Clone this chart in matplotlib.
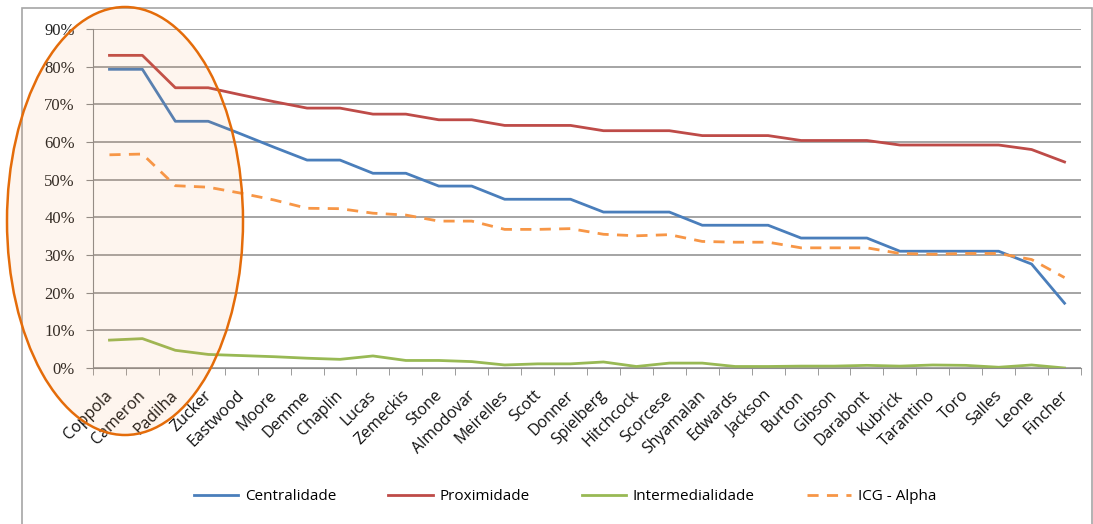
import matplotlib.pyplot as plt
from matplotlib.patches import Ellipse, Rectangle
from matplotlib.ticker import FixedLocator, PercentFormatter

diretores = ['Coppola', 'Cameron', 'Padilha', 'Zucker', 'Eastwood', 'Moore', 'Demme',
             'Chaplin', 'Lucas', 'Zemeckis', 'Stone', 'Almodovar', 'Meirelles', 'Scott',
             'Donner', 'Spielberg', 'Hitchcock', 'Scorcese', 'Shyamalan', 'Edwards',
             'Jackson', 'Burton', 'Gibson', 'Darabont', 'Kubrick', 'Tarantino', 'Toro',
             'Salles', 'Leone', 'Fincher']

centralidade = [79.3, 79.3, 65.5, 65.5, 62.1, 58.6, 55.2, 55.2, 51.7, 51.7, 48.3, 48.3,
                44.8, 44.8, 44.8, 41.4, 41.4, 41.4, 37.9, 37.9, 37.9, 34.5, 34.5, 34.5,
                31.0, 31.0, 31.0, 31.0, 27.6, 17.2]
proximidade = [83.0, 83.0, 74.4, 74.4, 72.5, 70.7, 69.0, 69.0, 67.4, 67.4, 65.9, 65.9,
               64.4, 64.4, 64.4, 63.0, 63.0, 63.0, 61.7, 61.7, 61.7, 60.4, 60.4, 60.4,
               59.2, 59.2, 59.2, 59.2, 58.0, 54.7]
intermedialidade = [7.4, 7.8, 4.7, 3.6, 3.3, 3.0, 2.6, 2.3, 3.2, 2.0, 2.0, 1.7,
                    0.8, 1.1, 1.1, 1.6, 0.4, 1.3, 1.3, 0.4, 0.4, 0.5, 0.5, 0.7,
                    0.5, 0.8, 0.7, 0.2, 0.8, 0.0]
icg_alpha = [56.6, 56.8, 48.4, 48.0, 46.4, 44.6, 42.4, 42.3, 41.1, 40.6, 39.0, 39.0,
             36.8, 36.8, 37.0, 35.5, 35.1, 35.4, 33.6, 33.4, 33.4, 31.9, 31.9, 31.9,
             30.4, 30.2, 30.4, 30.4, 28.8, 24.0]

fig = plt.figure(figsize=(10.93, 5.24), dpi=100)
ax = fig.add_axes([93 / 1093, 1 - 368 / 524, (1081 - 93) / 1093, (368 - 29) / 524])

x = range(len(diretores))
ax.plot(x, centralidade, color='#4A7EBB', lw=2.0, label='Centralidade')
ax.plot(x, proximidade, color='#BE4B48', lw=2.0, label='Proximidade')
ax.plot(x, intermedialidade, color='#98B954', lw=2.0, label='Intermedialidade')
ax.plot(x, icg_alpha, color='#F79646', lw=2.0, ls=(0, (4, 3)), label='ICG - Alpha')

ax.set_xlim(-0.5, len(diretores) - 0.5)
ax.set_ylim(0, 90)
ax.set_yticks(range(0, 91, 10))
ax.yaxis.set_major_formatter(PercentFormatter(decimals=0))
ax.grid(axis='y', color='#8C8C8C', lw=1.1)
ax.set_axisbelow(True)

# rótulos centrados um pouco à esquerda de cada categoria
ax.set_xticks([i - 0.15 for i in x])
ax.set_xticklabels(diretores, rotation=45, ha='right', rotation_mode='anchor',
                   fontsize=11.5, family='Open Sans', color='#111111')
ax.xaxis.set_minor_locator(FixedLocator([i - 0.5 for i in range(len(diretores) + 1)]))
ax.tick_params(axis='x', which='major', length=0, pad=14)
ax.tick_params(axis='x', which='minor', length=5, color='#8C8C8C')
ax.tick_params(axis='y', length=5, color='#8C8C8C', pad=8)
for lbl in ax.get_yticklabels():
    lbl.set_fontfamily('Liberation Serif')
    lbl.set_fontsize(12)
    lbl.set_color('#222222')

for side in ['top', 'right']:
    ax.spines[side].set_visible(False)
ax.spines['left'].set_color('#8C8C8C')
ax.spines['bottom'].set_color('#8C8C8C')

leg = fig.legend(loc='center', bbox_to_anchor=(565 / 1093, 1 - 497 / 524), ncol=4,
                 frameon=False, handlelength=2.9, handletextpad=0.45, columnspacing=3.4,
                 prop={'family': 'Open Sans', 'size': 11})

# moldura da área do gráfico
fig.patches.append(Rectangle((22 / 1093, -0.1), (1092 - 22) / 1093, 1.1 - 8 / 524,
                             transform=fig.transFigure, fill=False,
                             edgecolor='#A6A6A6', lw=1.2))

# destaque dos primeiros diretores
w, h = 236 / 1093, 428 / 524
fig.patches.append(Ellipse((125 / 1093, 1 - 221 / 524), w, h,
                           transform=fig.transFigure, facecolor='#F79646',
                           alpha=0.09, edgecolor='none', zorder=5))
fig.patches.append(Ellipse((125 / 1093, 1 - 221 / 524), w, h,
                           transform=fig.transFigure, fill=False,
                           edgecolor='#E46C0A', lw=1.8, zorder=6))

fig.savefig('out.png', dpi=100)
